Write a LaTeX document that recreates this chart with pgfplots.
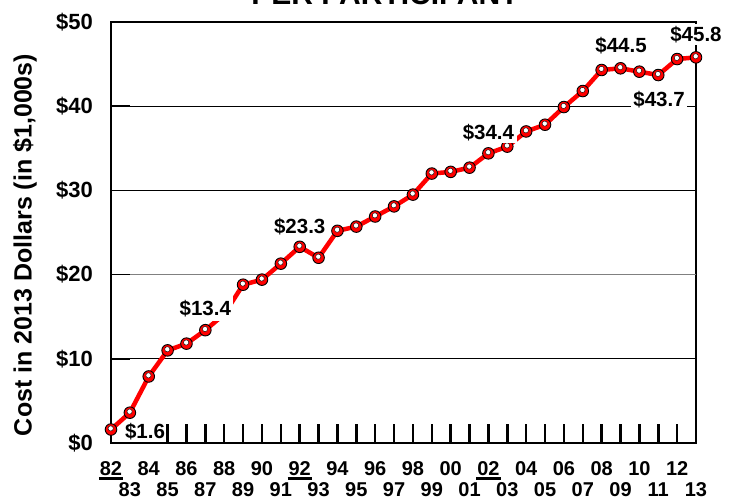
\documentclass[border=0pt]{standalone}
\usepackage{fontspec}
\setmainfont{Liberation Sans}
\usepackage{pgfplots}
\usepackage{pgfplotstable}
\pgfplotsset{compat=1.18}

% underline with a thicker rule, as in the reference
\newcommand{\ul}[1]{\setbox0\hbox{#1}\rlap{\kern-1pt\rule[-4pt]{\dimexpr\wd0+2pt\relax}{2.5pt}}\box0}
\newcommand{\lab}{\bfseries\fontsize{20.5}{24}\selectfont}

\pgfplotstableread{
year cost
1982 1.6
1983 3.6
1984 7.9
1985 11.0
1986 11.8
1987 13.4
1988 15.3
1989 18.8
1990 19.4
1991 21.3
1992 23.3
1993 22.0
1994 25.2
1995 25.7
1996 26.9
1997 28.1
1998 29.5
1999 32.0
2000 32.2
2001 32.7
2002 34.4
2003 35.2
2004 37.0
2005 37.8
2006 39.9
2007 41.8
2008 44.3
2009 44.5
2010 44.1
2011 43.7
2012 45.6
2013 45.8
}\costdata

\begin{document}
\begin{tikzpicture}
\path[use as bounding box] (-111pt,-57pt) rectangle (626pt,443pt);
\begin{axis}[
  at={(0,0)}, anchor=south west,
  scale only axis, width=585pt, height=421pt,
  xmin=1982, xmax=2013, ymin=0, ymax=50,
  clip=false,
  axis line style={line width=2.5pt},
  tick align=inside,
  xtick pos=bottom, ytick pos=left,
  major tick length=19pt,
  xtick={1982,1984,...,2012},
  xticklabels={\ul{82},84,86,88,90,\ul{92},94,96,98,00,\ul{02},04,06,08,10,12},
  extra x ticks={1983,1985,...,2013},
  extra x tick labels={83,85,87,89,91,93,95,97,99,01,03,05,07,09,11,13},
  extra x tick style={grid=none, xticklabel shift=39.5pt},
  xticklabel shift=18.5pt,
  xticklabel style={anchor=north, inner sep=0pt, font=\bfseries\fontsize{20}{24}\selectfont},
  xtick style={line width=2.5pt, black},
  ytick={0,10,30,40,50},
  yticklabels={\$0,\$10,\$30,\$40,\$50},
  extra y ticks={20}, extra y tick labels={\$20},
  extra y tick style={major grid style={gray, line width=1pt}},
  yticklabel shift=18pt,
  yticklabel style={anchor=east, inner sep=0pt, font=\bfseries\fontsize{22}{26}\selectfont},
  ytick style={line width=1.6pt, black},
  ymajorgrids, major grid style={black, line width=0.9pt},
]
\addplot[red, line width=4.5pt, mark=*, mark size=5.8pt,
  mark options={fill=red, draw=black, line width=0.9pt}] table[x=year, y=cost] {\costdata};
\addplot[only marks, mark=*, mark size=2.6pt,
  mark options={fill=white, draw=none, yshift=1.1pt, xshift=-0.3pt}] table[x=year, y=cost] {\costdata};

% label anchors, labels themselves are drawn after the axis so they sit on top
\coordinate (l82) at (axis cs:1982.68,0.15);
\coordinate (l87) at (axis cs:1987,16.0);
\coordinate (l92) at (axis cs:1992,25.7);
\coordinate (l02) at (axis cs:2002,36.9);
\coordinate (l09) at (axis cs:2009.03,47.2);
\coordinate (l11) at (axis cs:2011.04,40.8);
\coordinate (l13) at (axis cs:2013,48.5);
\end{axis}
\node[fill=white, anchor=south west, inner xsep=1pt, inner ysep=2pt, font=\lab] at (l82) {\$1.6};
\node[fill=white, inner xsep=2pt, inner ysep=4pt, font=\lab] at (l87) {\$13.4};
\node[fill=white, inner sep=2pt, font=\lab] at (l92) {\$23.3};
\node[fill=white, inner sep=2.5pt, font=\lab] at (l02) {\$34.4};
\node[fill=white, inner sep=2pt, font=\lab] at (l09) {\$44.5};
\node[fill=white, inner sep=2pt, font=\lab] at (l11) {\$43.7};
\node[fill=white, inner sep=2.5pt, font=\lab] at (l13) {\$45.8};
\node[font=\bfseries\fontsize{30}{36}\selectfont, anchor=base] at (274pt,438pt) {PER PARTICIPANT};
\node[rotate=90, font=\bfseries\fontsize{25}{30}\selectfont] at (-86pt,198pt) {Cost in 2013 Dollars (in \$1,000s)};
\end{tikzpicture}
\end{document}
